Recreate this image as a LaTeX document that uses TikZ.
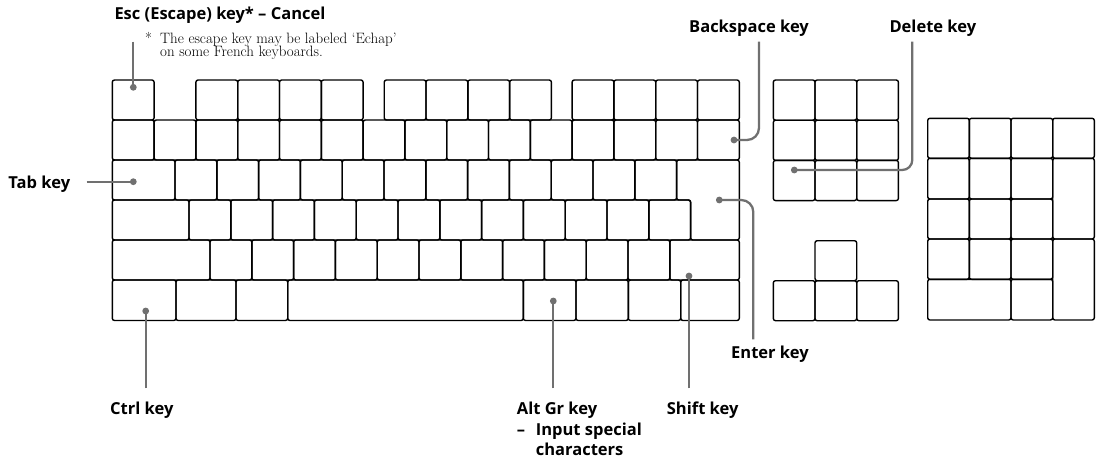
\documentclass[tikz,border=0pt]{standalone}
\usepackage{fontspec}
\setsansfont{Open Sans}
\usepackage{tikz}
\usetikzlibrary{arrows.meta,positioning,calc}

\definecolor{leadgray}{RGB}{112,112,112}

\begin{document}
\begin{tikzpicture}[
    x=1pt, y=-1pt,
    keyb/.style={draw=black, line width=1.4pt, rounded corners=2.2pt, line join=round},
    lead/.style={draw=leadgray, line width=2.3pt},
    dot/.style={fill=leadgray},
    lbl/.style={font=\sffamily\bfseries\fontsize{16.5}{20.5}\selectfont, inner sep=0pt, anchor=base west, align=left},
    note/.style={font=\fontsize{15}{12}\selectfont, inner sep=0pt, anchor=base west}
]
\useasboundingbox (0,0) rectangle (1096,460);

% main block, function row
\draw[keyb] (112.3,80) rectangle ++(41.8,40);
\foreach \x in {195.9,384.2,572.1}
  \foreach \i in {0,...,3}
    \draw[keyb] ({\x+\i*41.8},80) rectangle ++(41.8,40);
% number row
\foreach \i in {0,...,14}
  \draw[keyb] ({112.3+\i*41.8},120) rectangle ++(41.8,40);
% tab row
\draw[keyb] (112.3,160) rectangle (175,200);
\foreach \i in {0,...,11}
  \draw[keyb] ({175+\i*41.8},160) rectangle ++(41.8,40);
\draw[keyb] (676.6,160) -- (739.3,160) -- (739.3,240) -- (690.6,240)
  -- (690.6,200) -- (676.6,200) -- cycle;
% caps row
\draw[keyb] (112.3,200) rectangle (189,240);
\foreach \i in {0,...,11}
  \draw[keyb] ({189+\i*41.8},200) rectangle ++(41.8,40);
% shift row
\draw[keyb] (112.3,240) rectangle (210,280);
\foreach \i in {0,...,10}
  \draw[keyb] ({210+\i*41.8},240) rectangle ++(41.8,40);
\draw[keyb] (669.8,240) rectangle (739.3,280);
% bottom row
\foreach \a/\b in {112.3/176,176/236,236/287.7,287.7/523.3,523.3/576,576/628.3,628.3/680.7,680.7/739.3}
  \draw[keyb] (\a,280) rectangle (\b,320.5);

% edit block and arrows
\foreach \i in {0,1,2}
  \foreach \j in {0,1,2}
    \draw[keyb] ({773.3+\i*41.7},{80+\j*40.2}) rectangle ++(41.7,40.2);
\draw[keyb] (815,240.7) rectangle ++(41.7,40);
\foreach \i in {0,1,2}
  \draw[keyb] ({773.3+\i*41.7},280.7) rectangle ++(41.7,40);

% numeric pad
\foreach \a/\b/\c/\d in {927.7/118.3/969.3/158.3, 969.3/118.3/1011/158.3, 1011/118.3/1052.7/158.3, 1052.7/118.3/1094.3/158.3,
    927.7/158.3/969.3/199, 969.3/158.3/1011/199, 1011/158.3/1052.7/199, 1052.7/158.3/1094.3/239,
    927.7/199/969.3/239, 969.3/199/1011/239, 1011/199/1052.7/239,
    927.7/239/969.3/279.3, 969.3/239/1011/279.3, 1011/239/1052.7/279.3, 1052.7/239/1094.3/320,
    927.7/279.3/1011/320, 1011/279.3/1052.7/320}
  \draw[keyb] (\a,\b) rectangle (\c,\d);

% labels
\node[lbl] (esc) at (114.3,19.5) {Esc (Escape) key* -- Cancel};
\node[note] (noteA) at (145,44) {\makebox[15pt][l]{*}The escape key may be labeled `Echap'};
\node[note] (noteB) at (160,57) {on some French keyboards.};
\node[lbl] (bksp) at (689,33) {Backspace key};
\node[lbl] (del) at (889.3,33) {Delete key};
\node[lbl] (tab) at (8.3,188) {Tab key};
\node[lbl] (enter) at (731,358.5) {Enter key};
\node[lbl] (ctrl) at (110,414.5) {Ctrl key};
\node[lbl] (altgr) at (516.7,455.5) {Alt Gr key\\\makebox[19pt][l]{--}Input special\\\hspace*{19pt}characters};
\node[lbl] (shift) at (666.7,414.5) {Shift key};

% leader ends
\coordinate (escA) at (133.3,41.7);   \coordinate (escB) at (133.3,87.3);
\coordinate (bkA) at (759,41.7);      \coordinate (bkB) at (734,140);
\coordinate (delA) at (912.3,41.7);   \coordinate (delB) at (794.3,170);
\coordinate (tabA) at (86.7,181.7);   \coordinate (tabB) at (133.3,181.7);
\coordinate (entA) at (753.3,339.3);  \coordinate (entB) at (719.3,200);
\coordinate (ctlA) at (145.7,388.3);  \coordinate (ctlB) at (145.7,311);
\coordinate (agA) at (553.3,388.3);   \coordinate (agB) at (553.3,301);
\coordinate (shA) at (689,388.3);     \coordinate (shB) at (689,276);

\draw[lead] (escA) -- (escB);
\draw[lead, rounded corners=12pt] (bkA) |- (bkB);
\draw[lead, rounded corners=10pt] (delA) |- (delB);
\draw[lead] (tabA) -- (tabB);
\draw[lead, rounded corners=12pt] (entA) |- (entB);
\draw[lead] (ctlA) -- (ctlB);
\draw[lead] (agA) -- (agB);
\draw[lead] (shA) -- (shB);
\foreach \p in {escB,bkB,delB,tabB,entB,ctlB,agB,shB}
  \fill[dot] (\p) circle (3.4pt);
\end{tikzpicture}
\end{document}
